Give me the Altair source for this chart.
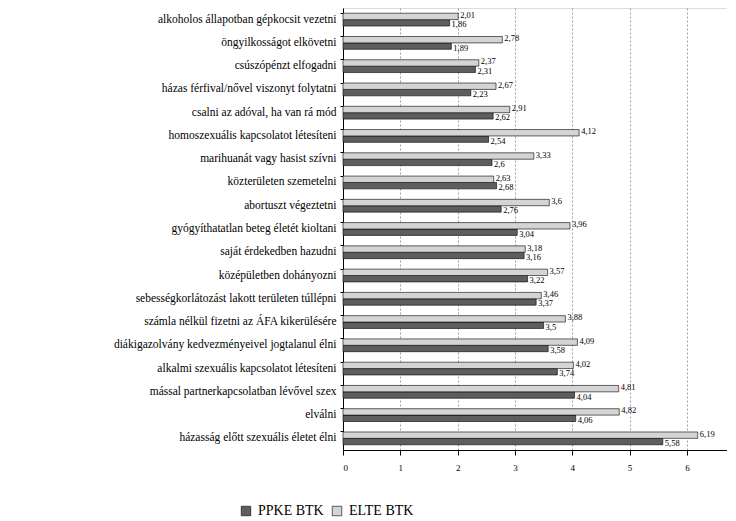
import altair as alt
import pandas as pd

categories = [
    "alkoholos állapotban gépkocsit vezetni",
    "öngyilkosságot elkövetni",
    "csúszópénzt elfogadni",
    "házas férfival/nővel viszonyt folytatni",
    "csalni az adóval, ha van rá mód",
    "homoszexuális kapcsolatot létesíteni",
    "marihuanát vagy hasist szívni",
    "közterületen szemetelni",
    "abortuszt végeztetni",
    "gyógyíthatatlan beteg életét kioltani",
    "saját érdekedben hazudni",
    "középületben dohányozni",
    "sebességkorlátozást lakott területen túllépni",
    "számla nélkül fizetni az ÁFA kikerülésére",
    "diákigazolvány kedvezményeivel jogtalanul élni",
    "alkalmi szexuális kapcsolatot létesíteni",
    "mással partnerkapcsolatban lévővel szex",
    "elválni",
    "házasság előtt szexuális életet élni",
]
ppke = [1.86, 1.89, 2.31, 2.23, 2.62, 2.54, 2.6, 2.68, 2.76, 3.04,
        3.16, 3.22, 3.37, 3.5, 3.58, 3.74, 4.04, 4.06, 5.58]
elte = [2.01, 2.78, 2.37, 2.67, 2.91, 4.12, 3.33, 2.63, 3.6, 3.96,
        3.18, 3.57, 3.46, 3.88, 4.09, 4.02, 4.81, 4.82, 6.19]
groups = ["PPKE BTK", "ELTE BTK"]
x_ticks = [0, 1, 2, 3, 4, 5, 6]

rows = []
for c, p, e in zip(categories, ppke, elte):
    rows.append({"cat": c, "group": groups[0], "value": p})
    rows.append({"cat": c, "group": groups[1], "value": e})
df = pd.DataFrame(rows)
df["label"] = df["value"].map(
    lambda v: f"{v:.2f}".rstrip("0").rstrip(".").replace(".", ","))

FONT = "Liberation Serif"
xscale = alt.Scale(domain=[0, 6.7], nice=False)

y_enc = alt.Y(
    "cat:N", sort=categories, title=None,
    scale=alt.Scale(paddingInner=0.45, paddingOuter=0.225),
    axis=alt.Axis(labelFont=FONT, labelFontSize=11.5, labelColor="black",
                  labelLimit=400, domainColor="black", tickColor="black",
                  tickSize=3, bandPosition=0, labelPadding=4,
                  minExtent=335, maxExtent=335),
)
yoff = alt.YOffset("group:N", sort=["ELTE BTK", "PPKE BTK"],
                   scale=alt.Scale(paddingInner=0, paddingOuter=0))

x_enc = alt.X(
    "value:Q", title=None, scale=xscale,
    axis=alt.Axis(values=x_ticks, format="d", labelFont=FONT, labelFontSize=9,
                  labelColor="black", domainColor="black", tickColor="black",
                  tickSize=5, labelPadding=8, grid=True, gridColor="#888",
                  gridDash=[2, 2], gridWidth=0.8),
)

bars = alt.Chart(df).mark_bar(stroke="black", strokeWidth=0.6).encode(
    x=x_enc,
    y=y_enc,
    yOffset=yoff,
    color=alt.Color(
        "group:N",
        scale=alt.Scale(domain=groups, range=["#5e5e5e", "#d4d4d4"]),
        legend=alt.Legend(
            title=None, orient="none", direction="horizontal",
            legendX=-104, legendY=496, labelFont=FONT, labelFontSize=14,
            labelColor="black", symbolType="square", symbolSize=90,
            symbolStrokeColor="black", symbolStrokeWidth=0.6,
            columnPadding=6, labelOffset=5,
        ),
    ),
)


def label_layer(group, dy):
    return alt.Chart(df).transform_filter(
        alt.datum.group == group
    ).mark_text(
        align="left", baseline="middle", dx=2, dy=dy, font=FONT,
        fontSize=8.5, color="black"
    ).encode(
        x=alt.X("value:Q", scale=xscale),
        y=alt.Y("cat:N", sort=categories),
        yOffset=yoff,
        text="label:N",
    )


chart = (bars + label_layer("ELTE BTK", -1.5) + label_layer("PPKE BTK", 1.5)).properties(
    width=384, height=442,
    padding={"left": 0, "top": 0, "right": 0, "bottom": 0},
).configure_view(stroke=None).configure(background="white", font=FONT)

chart.save("out.html", embed_options={"renderer": "svg", "actions": False})
